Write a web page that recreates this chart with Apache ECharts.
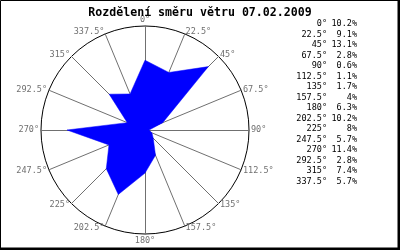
<!DOCTYPE html>
<html><head><meta charset="utf-8">
<script src="https://cdn.jsdelivr.net/npm/echarts@6/dist/echarts.min.js"></script>
<style>html,body{margin:0;padding:0;background:#fff}#c{width:400px;height:250px}</style>
</head><body><div id="c"></div>
<script>
const directions = [0, 22.5, 45, 67.5, 90, 112.5, 135, 157.5, 180, 202.5, 225, 247.5, 270, 292.5, 315, 337.5];
const percents = [10.2, 9.1, 13.1, 2.8, 0.6, 1.1, 1.7, 4, 6.3, 10.2, 8, 5.7, 11.4, 2.8, 7.4, 5.7];
const titleText = 'Rozdělení směru větru 07.02.2009';
const maxValue = 15.2;

// ECharts radar places indicators counter-clockwise; reorder so they run clockwise from north
const order = [0].concat(directions.map((d, i) => i).slice(1).reverse());
const indicators = order.map(i => ({ name: directions[i] + '°', max: maxValue }));
const values = order.map(i => percents[i]);

const font = 'DejaVu Sans Mono';
const legendTexts = [];
directions.forEach((d, i) => {
  const y = 24 + i * 10.5;
  legendTexts.push({ type: 'text', x: 327, y: y, style: { text: d + '°', fill: '#000', font: '8.5px "' + font + '"', align: 'right', verticalAlign: 'middle' } });
  legendTexts.push({ type: 'text', x: 357, y: y, style: { text: percents[i] + '%', fill: '#000', font: '8.5px "' + font + '"', align: 'right', verticalAlign: 'middle' } });
});

const chart = echarts.init(document.getElementById('c'), null, { renderer: 'canvas' });
chart.setOption({
  animation: false,
  backgroundColor: '#fff',
  title: {
    text: titleText, left: 'center', top: 2,
    textStyle: { fontFamily: font, fontWeight: 'bold', fontSize: 11.6, color: '#000' }
  },
  radar: {
    center: [145, 130], radius: 104, startAngle: 90, splitNumber: 1, shape: 'circle',
    nameGap: 2,
    axisName: { color: '#707070', fontFamily: font, fontSize: 8.5 },
    axisLine: { lineStyle: { color: '#707070', width: 1 } },
    splitLine: { lineStyle: { color: '#000', width: 1 } },
    splitArea: { show: false },
    indicator: indicators
  },
  series: [{
    type: 'radar', symbol: 'none', silent: true,
    data: [{ value: values }],
    lineStyle: { color: '#0000ff', width: 0.5 },
    areaStyle: { color: '#0000ff', opacity: 1 }
  }],
  graphic: legendTexts.concat([
    { type: 'rect', shape: { x: 0.5, y: 0.5, width: 397.5, height: 247.5 }, style: { fill: null, stroke: '#000', lineWidth: 1 } },
    { type: 'rect', shape: { x: 398, y: 0, width: 2, height: 250 }, style: { fill: '#000' } },
    { type: 'rect', shape: { x: 0, y: 248, width: 400, height: 2 }, style: { fill: '#000' } }
  ])
});
</script></body></html>
